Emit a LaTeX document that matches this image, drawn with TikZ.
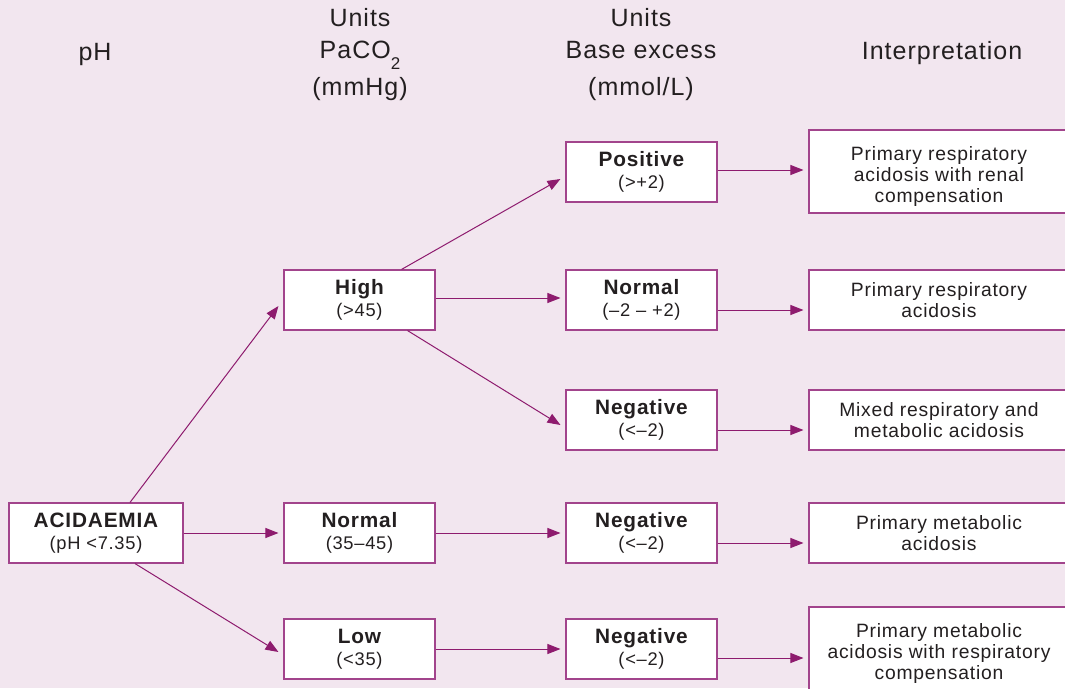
\documentclass[tikz,border=0pt]{standalone}
\usepackage{fontspec}
\setmainfont{Liberation Sans}[LetterSpace=4]
\usetikzlibrary{arrows.meta}
\definecolor{bg}{HTML}{F2E6EF}
\definecolor{bord}{HTML}{A2448C}
\definecolor{arr}{HTML}{8E1B6E}
\definecolor{txt}{HTML}{231F20}
\begin{document}
\begin{tikzpicture}[x=1pt,y=-1pt,
  box/.style={draw=bord,line width=1.1pt,fill=white,minimum width=151pt,minimum height=60pt,inner sep=0pt,align=center,text=txt,anchor=center,font=\fontsize{18.3}{22.5}\selectfont},
  ibox/.style={draw=bord,line width=1.1pt,fill=white,minimum width=260pt,inner sep=0pt,align=center,text=txt,font=\fontsize{19.3}{21}\selectfont},
  hdr/.style={text=txt,font=\fontsize{25}{30}\selectfont,align=center,inner sep=0pt,anchor=base},
  con/.style={draw=arr,line width=1pt,-{Triangle[length=13pt,width=10pt]}}]
\fill[bg] (0,0) rectangle (1065,688);
\useasboundingbox (0,0) rectangle (1065,688);
\newcommand{\bx}[2]{{\fontsize{20.8}{22.5}\selectfont\bfseries #1}\\{#2}}
\newcommand{\tstrut}{\rule{0pt}{24pt}}
% headers
\node[hdr] (hph) at (95,60) {pH};
\node[hdr] (hu1) at (360,27) {Units};
\node[hdr] (hpa) at (360,58.5) {PaCO\raisebox{-11pt}{\fontsize{17}{17}\selectfont 2}};
\node[hdr] (hmm) at (360,95) {(mmHg)};
\node[hdr] (hu2) at (641,27) {Units};
\node[hdr] (hbe) at (641,58.5) {Base excess};
\node[hdr] (hmol) at (641,95) {(mmol/L)};
\node[hdr] (hint) at (942,59.5) {Interpretation};
% boxes
\node[box,minimum width=174pt] (acid) at (96,533) {\bx{ACIDAEMIA}{(pH <7.35)}};
\node[box] (high) at (359.5,300) {\bx{High}{(>45)}};
\node[box] (pnorm) at (359.5,533) {\bx{Normal}{(35--45)}};
\node[box] (low) at (359.5,649) {\bx{Low}{(<35)}};
\node[box] (pos) at (641.5,172) {\bx{Positive}{(>+2)}};
\node[box] (bnorm) at (641.5,300) {\bx{Normal}{(--2 -- +2)}};
\node[box] (neg1) at (641.5,420) {\bx{Negative}{(<--2)}};
\node[box] (neg2) at (641.5,533) {\bx{Negative}{(<--2)}};
\node[box] (neg3) at (641.5,649) {\bx{Negative}{(<--2)}};
\node[ibox,minimum height=83pt] (i1) at (939,171.5) {\tstrut Primary respiratory\\acidosis with renal\\compensation};
\node[ibox,minimum height=60pt] (i2) at (939,300) {Primary respiratory\\acidosis};
\node[ibox,minimum height=60pt] (i3) at (939,420) {Mixed respiratory and\\metabolic acidosis};
\node[ibox,minimum height=60pt] (i4) at (939,533) {Primary metabolic\\acidosis};
\node[ibox,minimum height=83pt] (i5) at (939,648.5) {\tstrut Primary metabolic\\acidosis with respiratory\\compensation};
% connectors
\draw[con] ([xshift=34pt]acid.north) -- ([xshift=-5pt,yshift=-6pt]high.west);
\draw[con] (acid.east) -- ([xshift=-5pt]pnorm.west);
\draw[con] ([xshift=39pt]acid.south) -- ([xshift=-5pt,yshift=-3pt]low.west);
\draw[con] ([xshift=42pt]high.north) -- ([xshift=-5pt,yshift=-7pt]pos.west);
\draw[con] ([yshift=2pt]high.east) -- ([xshift=-5pt,yshift=2pt]bnorm.west);
\draw[con] ([xshift=48pt]high.south) -- ([xshift=-5pt,yshift=-5pt]neg1.west);
\draw[con] (pnorm.east) -- ([xshift=-5pt]neg2.west);
\draw[con] (low.east) -- ([xshift=-5pt]neg3.west);
\draw[con] ([yshift=2pt]pos.east) -- ([xshift=-5pt,yshift=1.5pt]i1.west);
\draw[con] ([yshift=-10pt]bnorm.east) -- ([xshift=-5pt,yshift=-10pt]i2.west);
\draw[con] ([yshift=-10pt]neg1.east) -- ([xshift=-5pt,yshift=-10pt]i3.west);
\draw[con] ([yshift=-10pt]neg2.east) -- ([xshift=-5pt,yshift=-10pt]i4.west);
\draw[con] ([yshift=-9pt]neg3.east) -- ([xshift=-5pt,yshift=-9.5pt]i5.west);
\end{tikzpicture}
\end{document}
